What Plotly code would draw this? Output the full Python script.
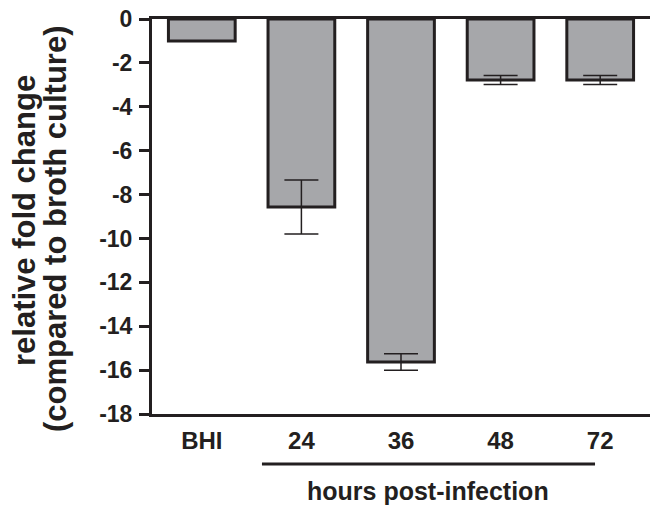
import plotly.graph_objects as go

categories = ["BHI", "24", "36", "48", "72"]
fold_change = [-1.0, -8.57, -15.63, -2.78, -2.78]
errors = [0.0, 1.23, 0.38, 0.2, 0.2]
y_ticks = [0, -2, -4, -6, -8, -10, -12, -14, -16, -18]

INK = "#231f20"
FONT = "Liberation Sans, Arial, sans-serif"

W, H = 655, 505
# plot area in page pixels: x 152..650, y 19..414
ml, mt = 152, 19
mr = W - 650
mb = H - 414
pw, ph = W - ml - mr, H - mt - mb

def px_to_paper_x(px):
    return (px - ml) / pw

def px_to_paper_y(py):
    return (H - mb - py) / ph

fig = go.Figure()
fig.add_trace(go.Bar(
    x=list(range(len(categories))),
    y=fold_change,
    width=0.67,
    marker=dict(color="#a6a7aa", line=dict(color=INK, width=3)),
    error_y=dict(type="data", array=errors, visible=True, color=INK,
                 thickness=1.5, width=17),
    showlegend=False,
))

fig.update_layout(
    width=W, height=H,
    margin=dict(l=ml, r=mr, t=mt, b=mb, pad=0, autoexpand=False),
    plot_bgcolor="white", paper_bgcolor="white",
    font=dict(family=FONT, color=INK, weight="bold"),
    xaxis=dict(
        range=[-0.5, 4.5],
        tickmode="array",
        tickvals=list(range(len(categories))),
        ticktext=categories,
        tickfont=dict(size=24, family=FONT, color=INK, weight="bold"),
        showline=True, linecolor=INK, linewidth=3, mirror=True,
        ticks="", showgrid=False, zeroline=False,
        ticklabelstandoff=3,
        automargin=False,
    ),
    yaxis=dict(
        range=[-18, 0],
        tickmode="array",
        tickvals=y_ticks,
        ticktext=[str(v) for v in y_ticks],
        tickfont=dict(size=23, family=FONT, color=INK, weight="bold"),
        showline=True, linecolor=INK, linewidth=3, mirror=False,
        ticks="outside", ticklen=10, tickwidth=2.5, tickcolor=INK,
        showgrid=False, zeroline=False,
        ticklabelstandoff=2,
        ticklabeloverflow="allow",
        automargin=False,
    ),
)

# bracket under time-point labels
fig.add_shape(type="line", xref="x", yref="paper",
              x0=0.604, x1=3.948,
              y0=px_to_paper_y(464), y1=px_to_paper_y(464),
              line=dict(color=INK, width=3))

fig.add_annotation(text="hours post-infection", xref="paper", yref="paper",
                   x=px_to_paper_x(428), y=px_to_paper_y(491),
                   xanchor="center", yanchor="middle", showarrow=False,
                   font=dict(size=25, family=FONT, color=INK, weight="bold"))

fig.add_annotation(text="relative fold change", xref="paper", yref="paper",
                   x=px_to_paper_x(24), y=px_to_paper_y(221),
                   xanchor="center", yanchor="middle", showarrow=False,
                   textangle=-90,
                   font=dict(size=31, family=FONT, color=INK, weight="bold"))
fig.add_annotation(text="(compared to broth culture)", xref="paper", yref="paper",
                   x=px_to_paper_x(56), y=px_to_paper_y(229),
                   xanchor="center", yanchor="middle", showarrow=False,
                   textangle=-90,
                   font=dict(size=31, family=FONT, color=INK, weight="bold"))

fig.write_html(
    "out.html",
    config={"displayModeBar": False},
    post_script="document.body.style.margin='0';document.body.style.overflow='hidden';",
)
